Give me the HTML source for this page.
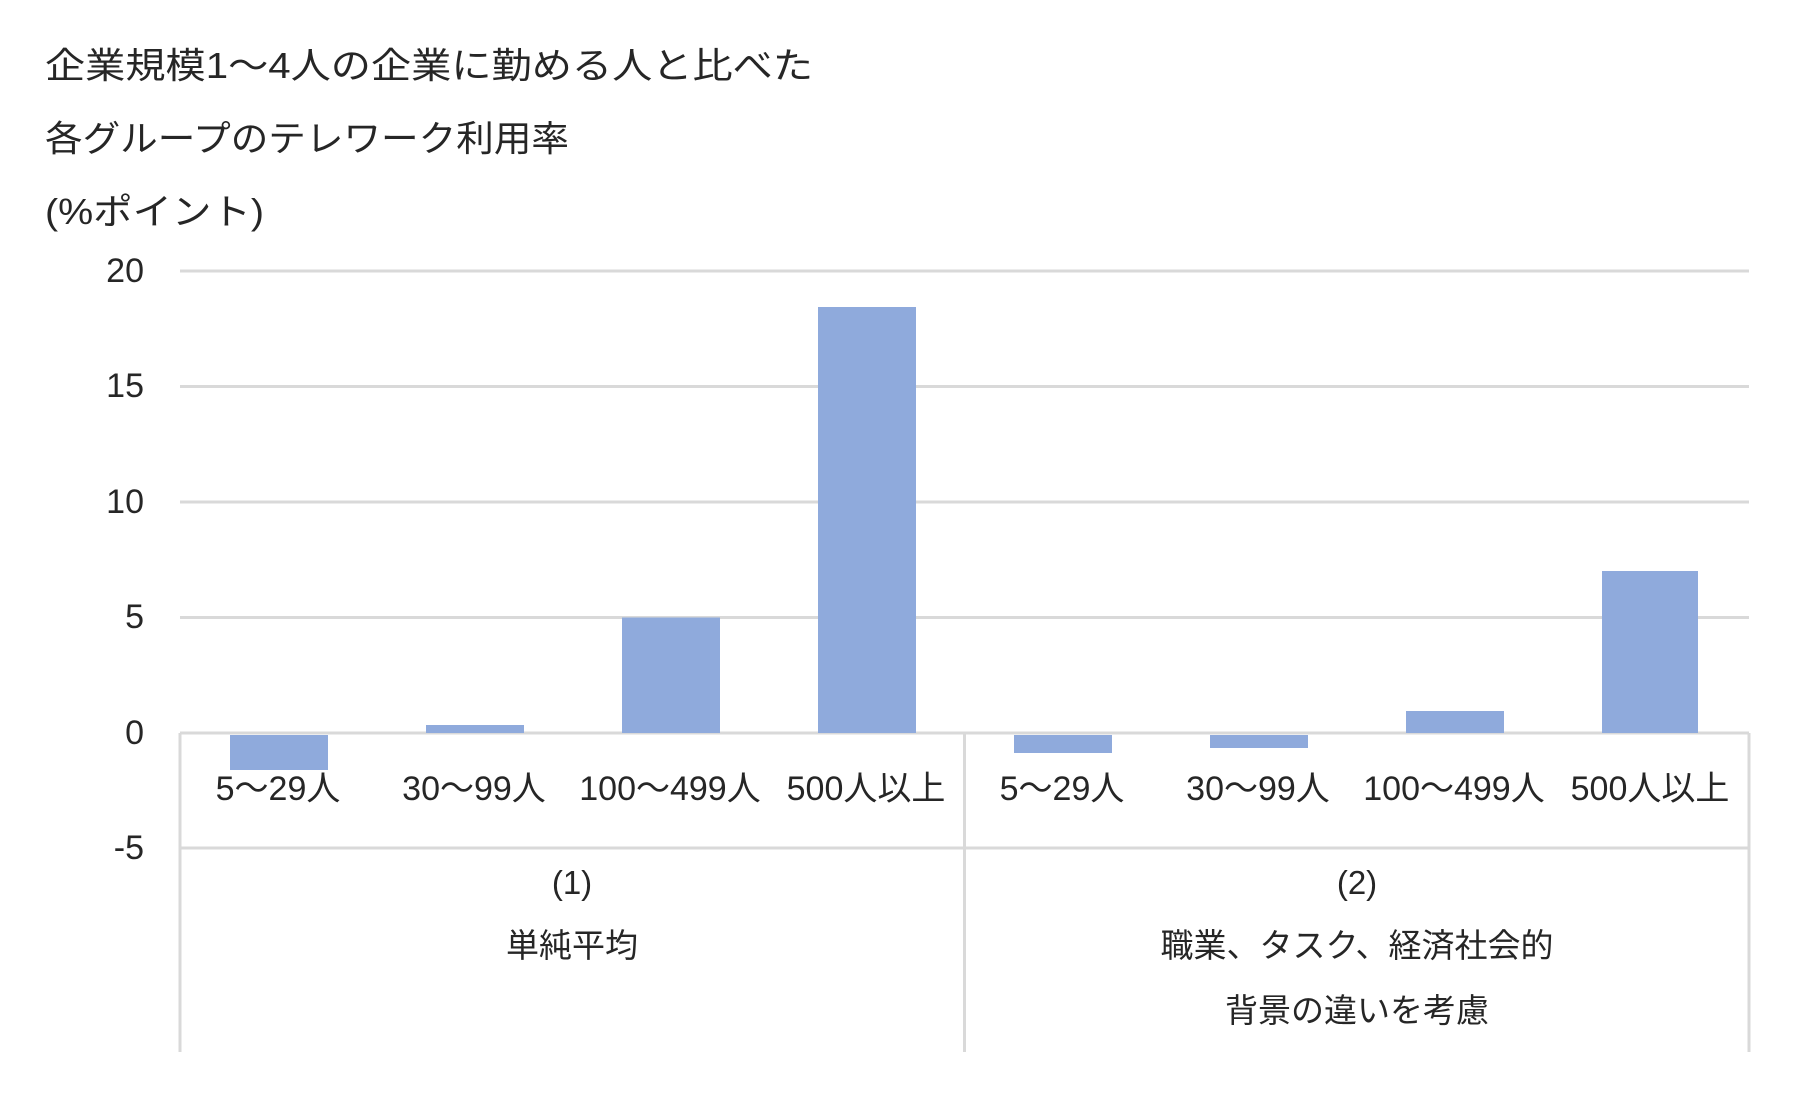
<!DOCTYPE html>
<html><head><meta charset="utf-8"><style>
html,body{margin:0;padding:0;background:#fff;}
svg{display:block;}
text{font-family:"Liberation Sans","Noto Sans CJK JP",sans-serif;fill:#262626;}
</style></head><body>
<svg width="1803" height="1100" viewBox="0 0 1803 1100" xmlns="http://www.w3.org/2000/svg">
<rect width="1803" height="1100" fill="#fff"/>
<g font-size="36">
<text x="45" y="78" textLength="768" lengthAdjust="spacingAndGlyphs">企業規模1～4人の企業に勤める人と比べた</text>
<text x="45" y="151" textLength="524" lengthAdjust="spacingAndGlyphs">各グループのテレワーク利用率</text>
<text x="45" y="224" textLength="219" lengthAdjust="spacingAndGlyphs">(%ポイント)</text>
</g>
<g stroke="#d9d9d9" stroke-width="3">
<line x1="180" y1="271" x2="1749" y2="271"/>
<line x1="180" y1="386.5" x2="1749" y2="386.5"/>
<line x1="180" y1="502" x2="1749" y2="502"/>
<line x1="180" y1="617.5" x2="1749" y2="617.5"/>
<line x1="180" y1="733" x2="1749" y2="733"/>
<line x1="180" y1="848" x2="1749" y2="848"/>
<line x1="180" y1="733" x2="180" y2="1052"/>
<line x1="964.5" y1="733" x2="964.5" y2="1052"/>
<line x1="1749" y1="733" x2="1749" y2="1052"/>
</g>
<g font-size="34" text-anchor="end">
<text x="144" y="282">20</text>
<text x="144" y="397">15</text>
<text x="144" y="513">10</text>
<text x="144" y="628">5</text>
<text x="144" y="744">0</text>
<text x="144" y="859">-5</text>
</g>
<g fill="#8faadc">
<rect x="230" y="735" width="98" height="35"/>
<rect x="426" y="725" width="98" height="8"/>
<rect x="622" y="617.5" width="98" height="115.5"/>
<rect x="818" y="307" width="98" height="426"/>
<rect x="1014" y="735" width="98" height="18"/>
<rect x="1210" y="735" width="98" height="13"/>
<rect x="1406" y="711" width="98" height="22"/>
<rect x="1602" y="571" width="96" height="162"/>
</g>
<g font-size="34" text-anchor="middle">
<text x="278" y="800">5～29人</text>
<text x="474" y="800">30～99人</text>
<text x="670" y="800">100～499人</text>
<text x="866" y="800">500人以上</text>
<text x="1062" y="800">5～29人</text>
<text x="1258" y="800">30～99人</text>
<text x="1454" y="800">100～499人</text>
<text x="1650" y="800">500人以上</text>
</g>
<g font-size="33" text-anchor="middle">
<text x="572" y="894">(1)</text>
<text x="572" y="957">単純平均</text>
<text x="1357" y="894">(2)</text>
<text x="1357" y="957">職業、タスク、経済社会的</text>
<text x="1357" y="1022">背景の違いを考慮</text>
</g>
</svg>
</body></html>
